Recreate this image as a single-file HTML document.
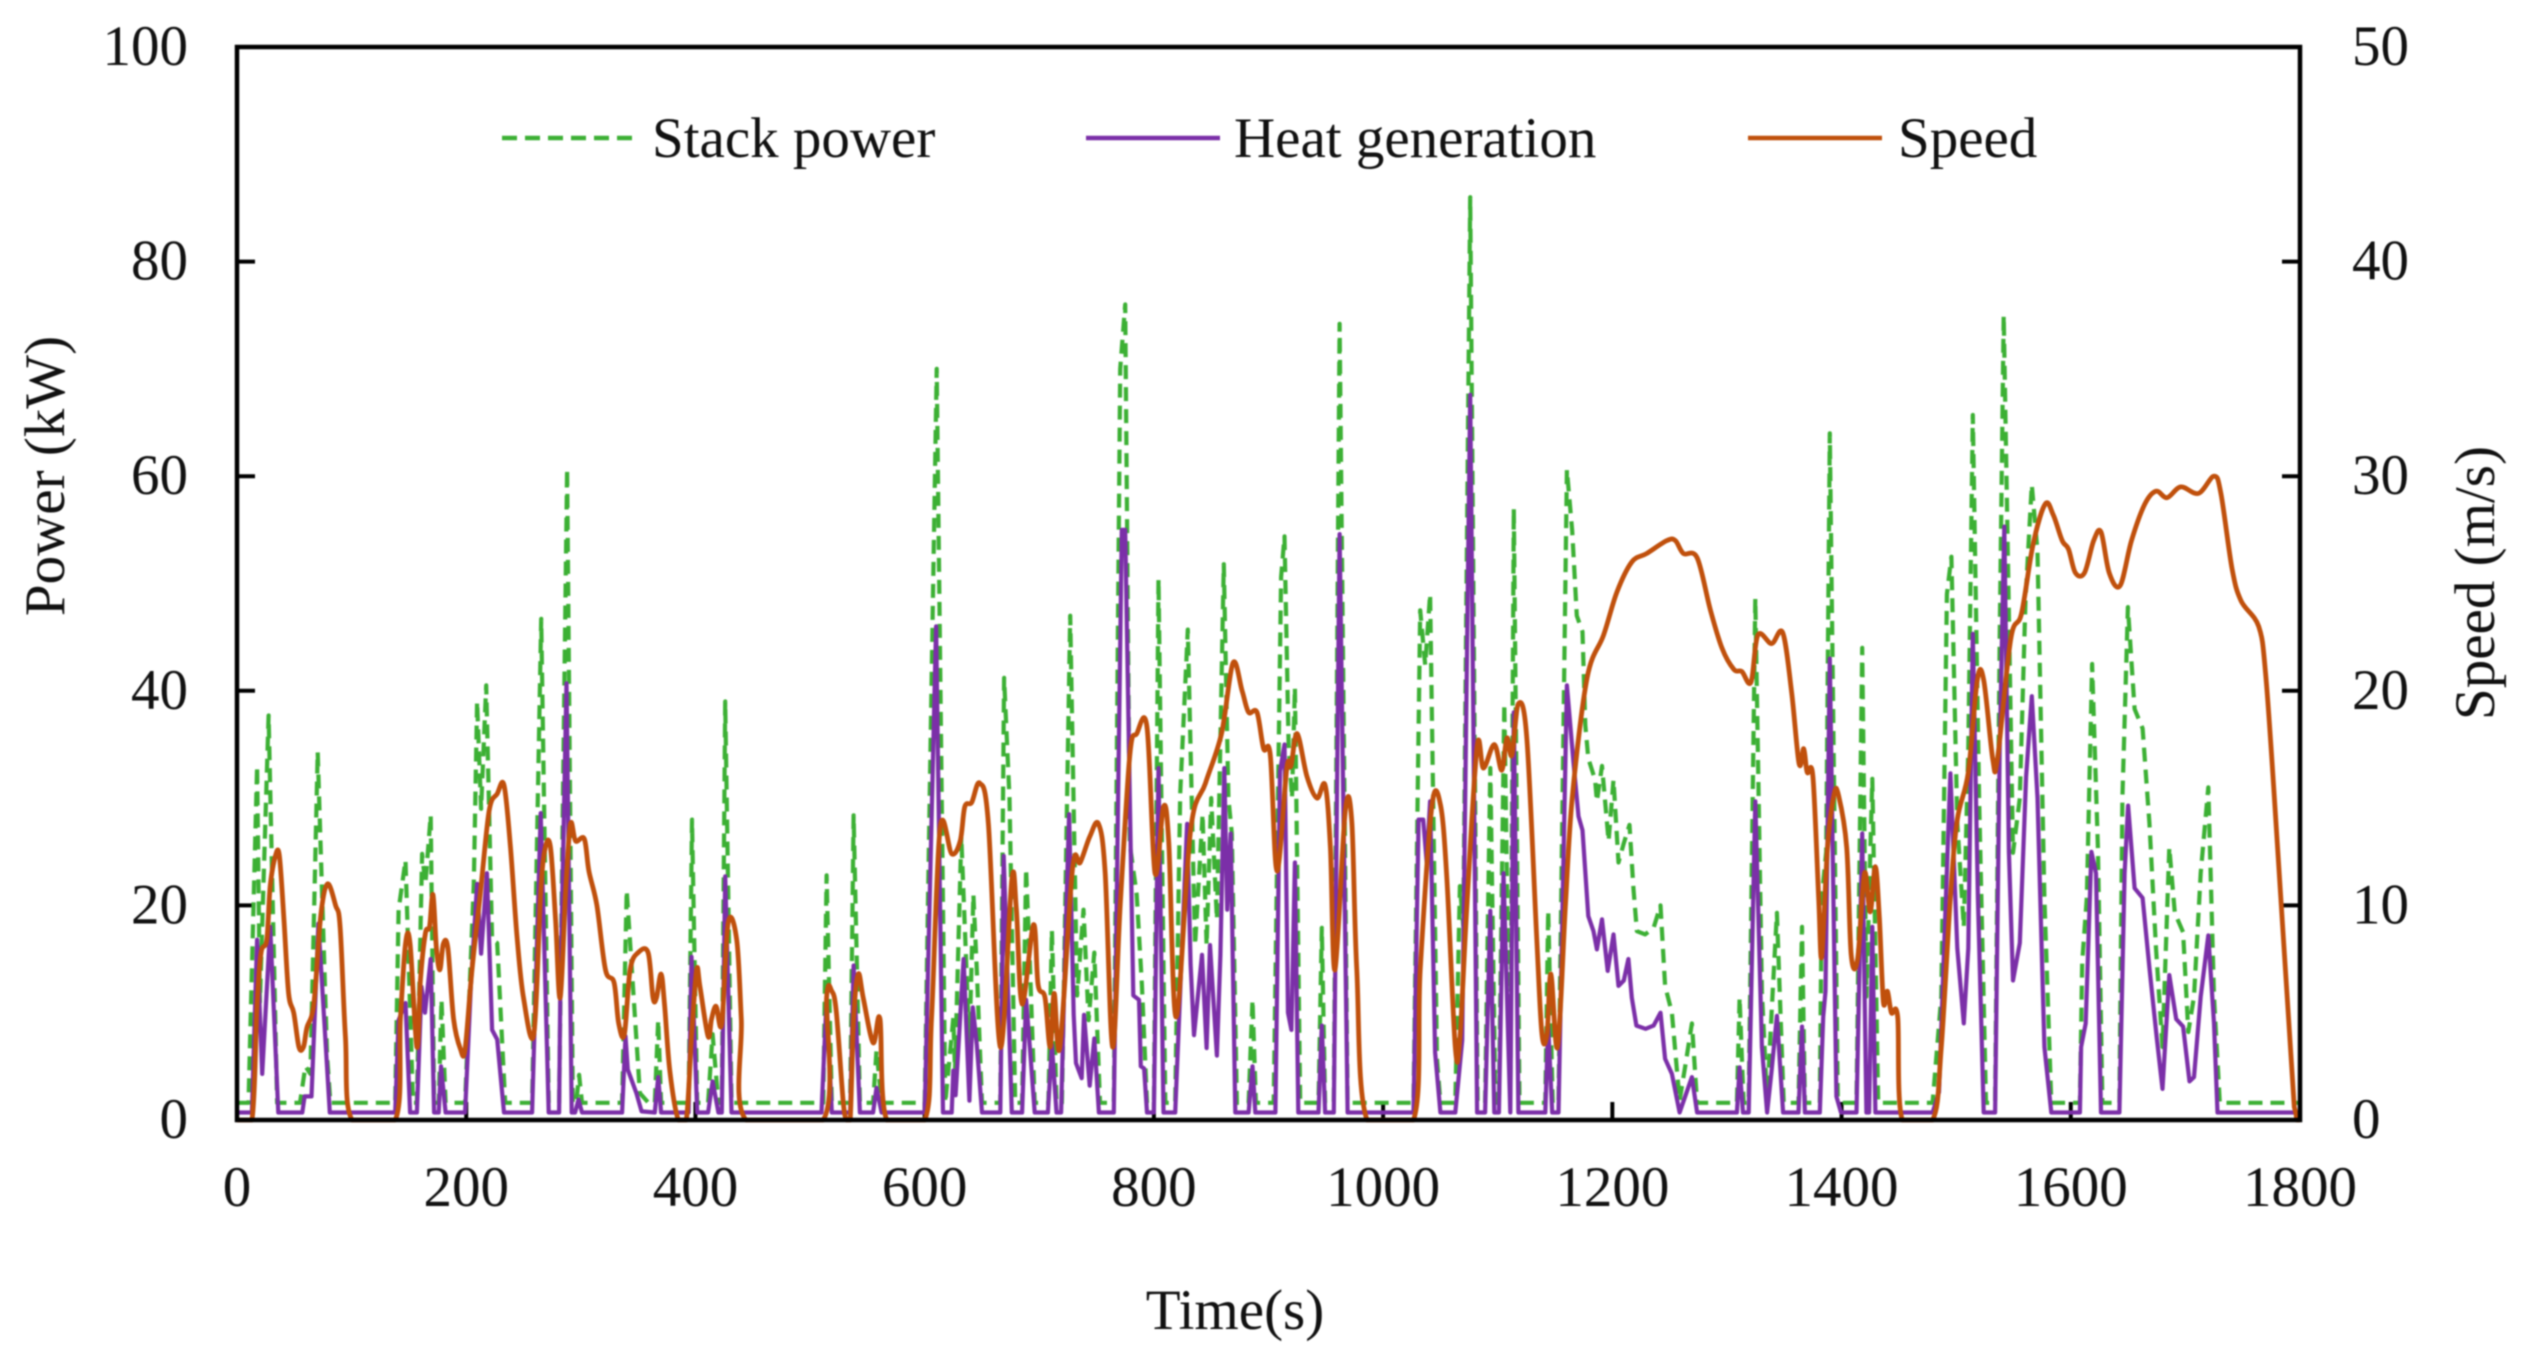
<!DOCTYPE html>
<html lang="en">
<head>
<meta charset="utf-8">
<title>Stack power, heat generation and speed over time</title>
<style>
html,body{margin:0;padding:0;background:#fff;}
body{width:2528px;height:1360px;overflow:hidden;}
svg{display:block;filter:blur(0.7px);}
text{font-family:"Liberation Serif","Times New Roman",serif;font-size:57px;fill:#111;}
</style>
</head>
<body>
<svg id="chart" xmlns="http://www.w3.org/2000/svg" width="2528" height="1360" viewBox="0 0 2528 1360">
  <rect x="237" y="47" width="2063" height="1073" fill="#fff"/>
  <g id="axes"></g>
  <g id="series"></g>
  <rect x="237" y="47" width="2063" height="1073" fill="none" stroke="#000" stroke-width="4.5"/>
  <g>
    <line x1="502" y1="138" x2="638" y2="138" stroke="#3cb034" stroke-width="4.5" stroke-dasharray="15 8"/>
    <text x="652" y="157">Stack power</text>
    <line x1="1086" y1="138" x2="1220" y2="138" stroke="#7b2fa8" stroke-width="4.5"/>
    <text x="1234" y="157">Heat generation</text>
    <line x1="1748" y1="138" x2="1882" y2="138" stroke="#c0500c" stroke-width="4.5"/>
    <text x="1898" y="157">Speed</text>
  </g>
  <text x="1235" y="1329" text-anchor="middle">Time(s)</text>
  <text transform="translate(64 476) rotate(-90)" text-anchor="middle">Power (kW)</text>
  <text transform="translate(2494 583) rotate(-90)" text-anchor="middle">Speed (m/s)</text>
</svg>
<script>
const xTickLabels = [0, 200, 400, 600, 800, 1000, 1200, 1400, 1600, 1800];
const powerTickLabels = [0, 20, 40, 60, 80, 100];
const speedTickLabels = [0, 10, 20, 30, 40, 50];

const stackTimes = [
0,10,17.5,20,27.6,35,55,59.7,64,70.4,
78.6,81.5,138,141,147,153.6,157,161.5,164.4,169,
172,176,178.4,182,199,206.6,209.5,213,217.4,222.6,
227,234,257.5,265.4,272,281,288,293,296,298.5,
301,336,340,351.5,359,364.5,367.5,370,394,397,
401.5,411,415,420,423,426,431.5,511.5,514.4,519,
535,538,543.5,555,558,562.4,600,610.5,618,625,
626.5,632,639,642.5,645.5,650,666,669.3,674,679,
685,688.5,692,696,708,711,715,719.7,727,733,
738.6,743,748,753,765,770.6,775,779,785,789.5,
794,800,804,810,818.6,823,829.6,836,842.5,846,
850,855,861,865,868,872.4,882.6,886,889,904.5,
911,914,917.5,920.5,923,927.7,943.6,946.5,949.4,957,
962,969,1026.5,1032.4,1036.7,1041,1047,1050,1063,1067,
1070,1076,1082.4,1089,1093.5,1098,1101,1105.7,1111,1114,
1119,1141.5,1144,1148,1153,1160.4,1165,1169,1174,1176.4,
1179,1185,1186.5,1191,1196.7,1201,1205.4,1210,1215,1218.5,
1221.4,1228.7,1236,1242,1246,1252,1258.7,1263.6,1269.4,1274,
1308.7,1311,1314.5,1319,1324.7,1330.5,1335,1339,1343.6,1349.5,
1362.4,1365.5,1368,1381,1382.7,1386.6,1389.7,1396.7,1400,1413,
1418,1421.7,1426.8,1432,1479.4,1487,1491.9,1495.8,1501,1506.7,
1510.6,1514.5,1520,1526,1534,1538,1541.5,1549.6,1555.5,1560.5,
1566,1571,1577,1583,1608,1610,1614,1618.6,1623.7,1627.6,
1642.4,1645,1649.8,1655.7,1662.7,1668.6,1674.4,1680,1686,1690.8,
1698,1702.5,1707.5,1713.4,1720,1725,1730,1800
];
const stackValues = [
1.6,1.6,33,11,37.7,1.6,1.6,5,4.3,34.3,
6,1.6,1.6,19.6,24.2,1.6,1.6,24.8,22,28.4,
1.6,1.6,11.2,1.6,1.6,22,39,29,40.5,16.8,
16.5,1.6,1.6,46.7,1.6,1.6,60.7,1.6,1.6,4.2,
1.6,1.6,21.4,2.5,1.6,1.6,9.3,1.6,1.6,28,
1.6,1.6,8,1.6,1.6,39,1.6,1.6,22.8,1.6,
1.6,28.4,1.6,1.6,6.5,1.6,1.6,70,1.6,9.5,
4.6,26.4,7,21,14,1.6,1.6,41.2,30,1.6,
1.6,23.4,14,1.6,1.6,17.7,1.6,1.6,47,11.6,
19.6,9.3,15.6,1.6,1.6,70,76,25.7,21,12.6,
1.6,1.6,50.4,1.6,1.6,30.4,45.7,16.3,28.5,16.3,
30,18.7,51.8,30,26.7,1.6,1.6,11.2,1.6,1.6,
50.6,54.4,35,30,40.3,1.6,1.6,17.9,1.6,1.6,
74.2,1.6,1.6,47.5,42.4,49,5.7,1.6,1.6,21.8,
18,86,1.6,1.6,32.8,1.6,1.6,38.8,1.6,57,
1.6,1.6,19.5,1.6,1.6,60.6,54.9,47,45.5,36.8,
33.7,31.7,29.7,33,26,31.7,24,25.8,27.5,21.5,
17.6,17.3,17.9,20,12.5,10,1.8,5,9,1.6,
1.6,11.4,1.6,1.6,48.6,12,1.8,10,19.3,1.6,
1.6,18,1.6,1.6,20.7,25,64,2.2,1.6,1.6,
44,11.5,31.8,1.6,1.6,11.5,49,52.5,27.7,18,
34.6,65.7,30,1.6,1.6,45,75,24.9,30,48.5,
59.2,53,20.7,1.6,1.6,14.7,20.7,42.5,25.4,1.6,
1.6,30,47.8,38.3,36.5,27.7,16,6.8,25.4,19.3,
17.5,8.2,11.5,23,31,11.5,1.6,1.6
];

const heatTimes = [
0,13,17.5,22,29,36,57,59,65,71,
81,138,141,147,151,157,161,164,169,172,
176,178,182,199,204,209.5,213,218,222.6,227,
233,257.5,265,272,281,282,287.5,292,295,298,
301,336,339,341,348.5,353,364.5,367.5,370,394,
396.6,401.5,411,415,420,423,426,431.5,510,514.4,
519,535,538,543.5,555,558,562.4,600,610,616,
623.6,625,627,634,639,642,645.5,650,666,669,
676,685,688.5,692,696,707.5,711,715,719,722.6,
726,730,732,737,739,744,748,752,765,772,
775,779,782,787,788.6,791.5,794,800,804,808.4,
818.6,829,832,835,842,846,849,855,858,861.4,
864,867,871,882.6,886,888.5,906,910,914,917,
920,923,926,943.6,946.5,949.4,957,962,969,1026.5,
1031,1035,1038,1041,1045.4,1050,1063,1069,1076,1082,
1089,1093.5,1097,1101,1105,1111,1114,1118,1141.5,1144,
1147.5,1153,1160.4,1166,1170.5,1174,1179,1183.6,1186.5,1191,
1196,1201,1205.4,1210,1214,1217,1221,1229,1236,1242,
1246,1252,1258.7,1269.4,1274,1308.7,1311,1314,1319,1324.7,
1330.5,1335,1339,1343.6,1349,1362.4,1365.5,1368,1381,1384,
1386,1389.7,1395.5,1399.5,1413,1418,1421.7,1424,1426.8,1429.5,
1479.4,1485,1491,1495,1501,1506.7,1510.6,1514.5,1519,1524,
1534,1538,1542,1546,1549.6,1555.5,1561,1566,1571,1577,
1583,1608,1609,1613,1618,1622,1626.4,1642.4,1647,1650,
1655.7,1662.7,1668.6,1675,1680,1686,1692,1698,1703.6,1707.5,
1713.4,1720,1725,1728,1800
];
const heatValues = [
0.7,0.7,16.8,4.3,18,0.7,0.7,2.2,2.2,18.3,
0.7,0.7,9.3,10.9,0.7,0.7,12.4,10,15,0.7,
0.7,5,0.7,0.7,12.4,22,15.5,23,8.4,7.5,
0.7,0.7,28.6,0.7,0.7,11,40.7,0.7,0.7,1.9,
0.7,0.7,7.8,4.7,2.5,0.8,0.7,4,0.7,0.7,
15.2,0.7,0.7,3.6,0.7,0.7,22.7,0.7,0.7,11.3,
0.7,0.7,14.4,0.7,0.7,3,0.7,0.7,46,0.7,
0.7,4.6,2.3,15,1.8,10.5,7,0.7,0.7,24.6,
0.7,0.7,11.2,6.5,0.7,0.7,7,0.7,0.7,16,
28.5,9.8,5.3,3.9,9.8,3.2,7.6,0.7,0.7,55,
55,30,11.6,11.2,5,4.8,0.7,0.7,32.8,0.7,
0.7,27.6,14.5,7.9,15.4,6.7,16.3,6,15.4,32.8,
19.6,26.7,0.7,0.7,5,0.7,0.7,32.5,35,10,
8.4,24,0.7,0.7,8.8,0.7,0.7,54.6,0.7,0.7,
28,28,24,29.7,6.3,0.7,0.7,7.4,67.6,0.7,
0.7,19.5,0.7,0.7,23,0.7,38,0.7,0.7,8.8,
0.7,0.7,40.5,33.4,28.3,27,19,17.6,15.9,18.7,
13.9,17.3,12.5,13,15,11.4,8.8,8.5,8.8,10,
5.7,4.3,0.7,4,0.7,0.7,4.9,0.7,0.7,29.7,
6.8,0.7,4.6,9.7,0.7,0.7,8.7,0.7,0.7,9.6,
12,43,2.2,0.7,0.7,26.7,0.7,0.7,18,0.7,
0.7,2.6,20.7,32.3,16,9,16,45.3,20.7,0.7,
0.7,34.6,55.3,25,13,16.5,32,39.5,30,6.8,
0.7,0.7,6.8,9,25,23,0.7,0.7,23,29.3,
21.6,20.7,14.2,7.7,2.9,13.5,9.4,8.7,3.6,4,
11.5,17.2,9,0.7,0.7
];

const speedTimes = [
0,13,17.5,21,26,29,33.5,37,41,45,
49.5,54,58,61,67,73,79,86,90,94.6,
100.4,138,142.6,147,151,157,160,164.4,168,171,
174,177,180,184,189,195,199,205,212.4,220,
227,233,238.6,244.4,250,259,265,269,273.5,278,
282,287,291,295.4,303,307,314,321.5,329,333,
338,343,350,358.7,363,366,370,373,377.6,385,
392,396.6,401,404,411,414,418,423,428.6,436,
440,444,511.5,514.4,519,523,529,532,535,538,
542,546.4,555,561,567,600,606,613.5,623.6,631,
635,641,648,655.6,666,676,680,685,695,699,
705,709.5,713,718,729,735.7,744,751.7,757.5,764,
770.6,779,785,794,801,808.4,813,819.5,832,845,
859,869,877,882.6,890,895.7,901.6,907.4,916,919.6,
925,933.6,942.3,949.4,954,958,967,972.7,977,986,
1026.5,1032.4,1042.5,1050,1055.6,1063,1067,1073,1082,1087.6,
1097,1103.6,1108,1112.4,1118,1125.4,1134,1138.6,1143,1146.4,
1152.2,1159,1165,1178,1192.4,1204,1217,1230,1247.6,1255,
1262,1274,1285.4,1295.6,1306,1313,1321,1327,1339,1348.7,
1356.5,1363,1367,1370,1375,1380,1382.7,1387.7,1393.6,1397.5,
1404.5,1408.4,1414,1420,1425,1429.5,1433,1436.5,1440,1443.5,
1449,1453,1479.4,1487,1495,1501,1510.6,1518.4,1524,1532,
1536,1547.6,1557,1567,1577.7,1584.7,1592.5,1598,1604,1612,
1620,1626.4,1633.5,1643,1653,1664.6,1674.4,1684,1696,1711.4,
1725,1731,1740.7,1748.5,1764,1770,1777.7,1795,1797,1800
];
const speedValues = [
0,0,5.4,7.8,8.4,10.9,12.3,12.3,9.3,5.9,
5,3.4,3.4,4.3,5.4,9.5,11,10,9,3.9,
0,0,4.7,8.2,8.2,3.4,6.5,8.7,9,10.5,
8,7,8.2,8,4.7,3.3,3.3,7,10.6,14.4,
15.2,15.6,12.7,8.5,5.7,4,10.6,12.7,12.7,9.3,
5.7,10.9,13.8,13,13.1,11.6,10,7,6.4,4.5,
4,7,7.8,7.8,5.7,5.7,6.8,5.4,2.3,0,
0,3.9,7,6.2,3.9,4.7,5.3,4.5,9.2,8.4,
4.7,0,0,5.7,6,5,0.8,0,0,4.7,
6.8,5.7,3.6,4.7,0,0,4.7,13.6,12.4,13,
14.6,14.8,15.7,13.8,3.4,11.2,9.8,5.4,9.1,6.3,
5.7,3.4,5.9,3.4,11.7,12,13.2,13.8,11.5,3.4,
10,17,18,18.3,11.5,14.6,12.9,4.8,13.5,15.7,
18,21.3,20,19,19,17.3,17,11.6,16.4,16.5,
18,16,15,15.6,12.7,7,14.4,13.9,7,0,
0,7,14.6,14.7,11.3,3.4,3.8,9.9,17.4,16.4,
17.5,16.3,17.8,17,19.4,17.8,8.5,4,4,6.8,
3.4,9.9,15,20.6,22.6,24.6,26,26.4,27,27,
26.4,26.2,23.8,22,21,20.9,20.4,22.6,22.2,22.7,
19.9,16.6,17.3,16.2,16,10.4,7.6,12.7,15.2,15.1,
12.7,7.7,7.5,11.5,9.7,11.8,9.4,5.5,6,5,
4.8,0,0,3.4,10.4,14,16.2,20.5,20.5,16.8,
16.8,22.4,23.6,26.8,28.7,28.2,27,26.6,25.5,25.5,
27,27.4,25.5,24.9,27,28.7,29.3,29,29.5,29.2,
30,29.2,25.7,24.2,23,20.8,15,0.6,0,0
];

const plotLeft = 237, plotRight = 2300, plotTop = 47, plotBottom = 1120;
const xMax = 1800, powerMax = 100, speedMax = 50;
const tickLength = 18;
const svgNS = 'http://www.w3.org/2000/svg';

function xScale(t) { return plotLeft + (t / xMax) * (plotRight - plotLeft); }
function powerScale(v) { return plotBottom - (v / powerMax) * (plotBottom - plotTop); }
function speedScale(v) { return plotBottom - (v / speedMax) * (plotBottom - plotTop); }

function makeLine(parent, x1, y1, x2, y2) {
  const l = document.createElementNS(svgNS, 'line');
  l.setAttribute('x1', x1);
  l.setAttribute('y1', y1);
  l.setAttribute('x2', x2);
  l.setAttribute('y2', y2);
  l.setAttribute('stroke', '#000');
  l.setAttribute('stroke-width', '4');
  parent.appendChild(l);
  return l;
}
function makeText(parent, x, y, anchor, content) {
  const t = document.createElementNS(svgNS, 'text');
  t.setAttribute('x', x);
  t.setAttribute('y', y);
  t.setAttribute('text-anchor', anchor);
  t.textContent = content;
  parent.appendChild(t);
  return t;
}
function makeSeries(parent, times, values, scale, color, width, dash) {
  const p = document.createElementNS(svgNS, 'polyline');
  const pts = [];
  for (let i = 0; i < Math.min(times.length, values.length); i++) {
    pts.push(xScale(times[i]).toFixed(1) + ',' + scale(values[i]).toFixed(1));
  }
  p.setAttribute('points', pts.join(' '));
  p.setAttribute('fill', 'none');
  p.setAttribute('stroke', color);
  p.setAttribute('stroke-width', width);
  p.setAttribute('stroke-linejoin', 'round');
  if (dash) p.setAttribute('stroke-dasharray', dash);
  parent.appendChild(p);
  return p;
}
function makeSmoothSeries(parent, times, values, scale, color, width) {
  const p = document.createElementNS(svgNS, 'path');
  const n = Math.min(times.length, values.length);
  const X = [], Y = [];
  for (let i = 0; i < n; i++) {
    X.push(xScale(times[i]));
    Y.push(scale(values[i]));
  }
  const k = 1 / 6;
  let d = 'M' + X[0].toFixed(1) + ' ' + Y[0].toFixed(1);
  for (let i = 0; i < n - 1; i++) {
    const i0 = Math.max(i - 1, 0), i3 = Math.min(i + 2, n - 1);
    const c1x = X[i] + (X[i + 1] - X[i0]) * k;
    const c1y = Math.min(plotBottom, Y[i] + (Y[i + 1] - Y[i0]) * k);
    const c2x = X[i + 1] - (X[i3] - X[i]) * k;
    const c2y = Math.min(plotBottom, Y[i + 1] - (Y[i3] - Y[i]) * k);
    d += 'C' + c1x.toFixed(1) + ' ' + c1y.toFixed(1) + ' ' + c2x.toFixed(1) + ' ' + c2y.toFixed(1) + ' ' + X[i + 1].toFixed(1) + ' ' + Y[i + 1].toFixed(1);
  }
  p.setAttribute('d', d);
  p.setAttribute('fill', 'none');
  p.setAttribute('stroke', color);
  p.setAttribute('stroke-width', width);
  p.setAttribute('stroke-linejoin', 'round');
  parent.appendChild(p);
  return p;
}

const axes = document.getElementById('axes');
xTickLabels.forEach(function (v) {
  const tick = makeLine(axes, xScale(v), plotBottom, xScale(v), plotBottom - tickLength);
  
  
  const label = makeText(axes, xScale(v), 1206, 'middle', v);
  
  
});
powerTickLabels.forEach(function (v) {
  const tick = makeLine(axes, plotLeft, powerScale(v), plotLeft + tickLength, powerScale(v));
  
  
  const label = makeText(axes, 188, powerScale(v) + 18, 'end', v);
  
  
});
speedTickLabels.forEach(function (v) {
  const tick = makeLine(axes, plotRight, speedScale(v), plotRight - tickLength, speedScale(v));
  
  
  const label = makeText(axes, 2352, speedScale(v) + 18, 'start', v);
  
  
});

const seriesGroup = document.getElementById('series');
const stackLine = makeSeries(seriesGroup, stackTimes, stackValues, powerScale, '#3cb034', 4.2, '14 8');


const heatLine = makeSeries(seriesGroup, heatTimes, heatValues, powerScale, '#7b2fa8', 4.2, null);


const speedLine = makeSmoothSeries(seriesGroup, speedTimes, speedValues, speedScale, '#c0500c', 4.8);


</script>
</body>
</html>
